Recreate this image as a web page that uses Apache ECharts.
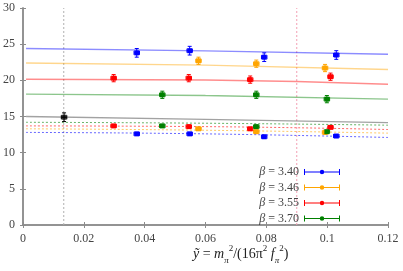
<!DOCTYPE html>
<html><head><meta charset="utf-8">
<script src="https://cdn.jsdelivr.net/npm/echarts@6/dist/echarts.min.js"></script>
<style>html,body{margin:0;padding:0;background:#fff}#c{width:403px;height:271px}</style>
</head><body><div id="c"></div>
<script>
// ---- data ----
const betaLabels = ['3.40', '3.46', '3.55', '3.70'];
const colors = ['#0000ff', '#ffa500', '#ff0000', '#008000'];
const xTickLabels = ['0', '0.02', '0.04', '0.06', '0.08', '0.1', '0.12'];
const yTickLabels = ['0', '5', '10', '15', '20', '25', '30'];

const x340 = [0.0374, 0.0548, 0.0793, 0.1030];
const upper340 = [23.8, 24.1, 23.2, 23.5];
const lower340 = [12.6, 12.6, 12.2, 12.3];
const x346 = [0.0577, 0.0767, 0.0993];
const upper346 = [22.7, 22.3, 21.7];
const lower346 = [13.3, 12.9, 12.8];
const x355 = [0.0298, 0.0545, 0.0747, 0.1011];
const upper355 = [20.3, 20.3, 20.1, 20.5];
const lower355 = [13.7, 13.6, 13.3, 13.5];
const x370 = [0.0458, 0.0767, 0.0999];
const upper370 = [18.0, 18.0, 17.4];
const lower370 = [13.7, 13.6, 12.9];
const upperErr = [0.6, 0.5, 0.5, 0.5];
const lowerErr = [0.2, 0.2, 0.2, 0.2];
const xErr = 0.0009;

const physX = [0.0135];
const physY = [14.9];
const physErr = [0.6];

// fit curves (read at x = 0.001, 0.06, 0.12)
const fitX = [0.001, 0.06, 0.12];
const fitUpper = [
  [24.4, 24.07, 23.6],
  [22.4, 22.1, 21.5],
  [20.15, 20.05, 19.45],
  [18.1, 17.9, 17.4]
];
const fitLower = [
  [12.8, 12.6, 12.1],
  [13.3, 13.1, 12.7],
  [13.7, 13.6, 13.2],
  [14.2, 14.07, 13.8]
];
const fitPhys = [15.0, 14.6, 14.15];

const vlineGray = 0.0134;
const vlinePink = 0.09;

// ---- build ----
const xs = [x340, x346, x355, x370];
const ups = [upper340, upper346, upper355, upper370];
const lows = [lower340, lower346, lower355, lower370];
const serif = 'Liberation Serif';

function errSeries(points, color) {
  return {
    type: 'custom', silent: true, z: 3,
    data: points,
    encode: {x: 0, y: 1},
    renderItem: function (params, api) {
      const x = api.value(0), y = api.value(1), xe = api.value(2), ye = api.value(3);
      const top = api.coord([x, y + ye]), bot = api.coord([x, y - ye]);
      const lft = api.coord([x - xe, y]), rgt = api.coord([x + xe, y]);
      const st = {stroke: color, lineWidth: 1};
      const c = 2;
      return {type: 'group', children: [
        {type: 'line', shape: {x1: top[0], y1: top[1], x2: bot[0], y2: bot[1]}, style: st},
        {type: 'line', shape: {x1: top[0] - c, y1: top[1], x2: top[0] + c, y2: top[1]}, style: st},
        {type: 'line', shape: {x1: bot[0] - c, y1: bot[1], x2: bot[0] + c, y2: bot[1]}, style: st},
        {type: 'line', shape: {x1: lft[0], y1: lft[1], x2: rgt[0], y2: rgt[1]}, style: st},
        {type: 'line', shape: {x1: lft[0], y1: lft[1] - c, x2: lft[0], y2: lft[1] + c}, style: st},
        {type: 'line', shape: {x1: rgt[0], y1: rgt[1] - c, x2: rgt[0], y2: rgt[1] + c}, style: st}
      ]};
    }
  };
}

const series = [];
// vertical reference lines
series.push({type: 'line', silent: true, symbol: 'none', data: [[vlineGray, 0], [vlineGray, 30]],
  lineStyle: {color: '#b0b0b0', width: 1, type: [2, 2]}, z: 1});
series.push({type: 'line', silent: true, symbol: 'none', data: [[vlinePink, 0], [vlinePink, 30]],
  lineStyle: {color: '#f3a0b4', width: 1, type: [2, 2]}, z: 1});

for (let k = 0; k < 4; k++) {
  series.push({type: 'line', silent: true, symbol: 'none', smooth: true,
    data: fitX.map((x, i) => [x, fitUpper[k][i]]),
    lineStyle: {color: colors[k], width: 1.4, opacity: 0.45}, z: 2});
  series.push({type: 'line', silent: true, symbol: 'none', smooth: true,
    data: fitX.map((x, i) => [x, fitLower[k][i]]),
    lineStyle: {color: colors[k], width: 1, opacity: 0.6, type: [2, 2]}, z: 2});
}
series.push({type: 'line', silent: true, symbol: 'none', smooth: true,
  data: fitX.map((x, i) => [x, fitPhys[i]]),
  lineStyle: {color: '#555', width: 1.4, opacity: 0.55}, z: 2});

for (let k = 0; k < 4; k++) {
  const upPts = xs[k].map((x, i) => [x, ups[k][i], xErr, upperErr[k]]);
  const loPts = xs[k].map((x, i) => [x, lows[k][i], xErr, lowerErr[k]]);
  series.push(errSeries(upPts, colors[k]));
  series.push(errSeries(loPts, colors[k]));
  series.push({type: 'scatter', name: 'b' + betaLabels[k], symbol: 'rect', symbolSize: 5,
    data: upPts.map(p => [p[0], p[1]]), itemStyle: {color: colors[k], opacity: 1}, z: 4});
  series.push({type: 'scatter', name: 'lo' + betaLabels[k], symbol: 'rect', symbolSize: 5,
    data: loPts.map(p => [p[0], p[1]]), itemStyle: {color: colors[k], opacity: 1}, z: 4});
}
const physPts = physX.map((x, i) => [x, physY[i], xErr, physErr[i]]);
series.push(errSeries(physPts, '#000'));
series.push({type: 'scatter', symbol: 'rect', symbolSize: 5,
  data: physPts.map(p => [p[0], p[1]]), itemStyle: {color: '#000'}, z: 4});

const iconPath = 'path://M0,0.5 H1 V3 H35 V0.5 H36 V6.5 H35 V4 H1 V6.5 H0 Z ' +
  'M20.3,3.5 L19.63,5.13 L18,5.8 L16.37,5.13 L15.7,3.5 L16.37,1.87 L18,1.2 L19.63,1.87 Z';

const axisCommon = {
  axisLine: {show: true, lineStyle: {color: '#8c8c8c', width: 1.5}},
  axisTick: {show: true, inside: true, length: 3, lineStyle: {color: '#8c8c8c'}},
  splitLine: {show: false}
};

const option = {
  animation: false,
  backgroundColor: '#fff',
  grid: {left: 23, right: 15, top: 8, bottom: 46},
  xAxis: [
    Object.assign({type: 'value', min: 0, max: 0.12, interval: 0.02, position: 'bottom',
      axisLabel: {formatter: (v) => xTickLabels[Math.round(v / 0.02)], fontFamily: serif, fontSize: 12, color: '#444', margin: 8}}, axisCommon),
    Object.assign({type: 'value', min: 0, max: 0.12, interval: 0.02, position: 'top',
      axisLabel: {show: false}}, axisCommon)
  ],
  yAxis: [
    Object.assign({type: 'value', min: 0, max: 30, interval: 5, position: 'left',
      axisLabel: {formatter: (v) => yTickLabels[Math.round(v / 5)], fontFamily: serif, fontSize: 12, color: '#444', margin: 8}}, axisCommon),
    Object.assign({type: 'value', min: 0, max: 30, interval: 5, position: 'right',
      axisLabel: {show: false}}, axisCommon)
  ],
  legend: {
    orient: 'vertical', right: 58, top: 160, align: 'right',
    itemWidth: 36, itemHeight: 7, itemGap: 1.5,
    data: betaLabels.map(b => ({name: 'b' + b, icon: iconPath})),
    formatter: (name) => '{i|β} = ' + name.slice(1),
    textStyle: {fontFamily: serif, fontSize: 12, color: '#444', lineHeight: 14,
      rich: {i: {fontFamily: serif, fontSize: 12, fontStyle: 'italic', color: '#444', lineHeight: 14}}},
    selectedMode: false
  },
  graphic: [{
    type: 'text', left: 193, top: 244,
    style: {
      text: '{i|ỹ} = {i|m}{s|π}{p|2}/(16π{p|2} {i|f}{s|π}{p|2})',
      fontFamily: serif, fontSize: 14, fill: '#222', lineHeight: 21,
      rich: {
        i: {fontFamily: serif, fontSize: 14, fontStyle: 'italic', fill: '#222', lineHeight: 21},
        s: {fontFamily: serif, fontSize: 9, fontStyle: 'italic', fill: '#222', verticalAlign: 'bottom', lineHeight: 21},
        p: {fontFamily: serif, fontSize: 9, fill: '#222', verticalAlign: 'top', lineHeight: 21}
      }
    }
  }],
  series: series
};
const chart = echarts.init(document.getElementById('c'), null, {renderer: 'canvas'});
chart.setOption(option);
</script></body></html>
